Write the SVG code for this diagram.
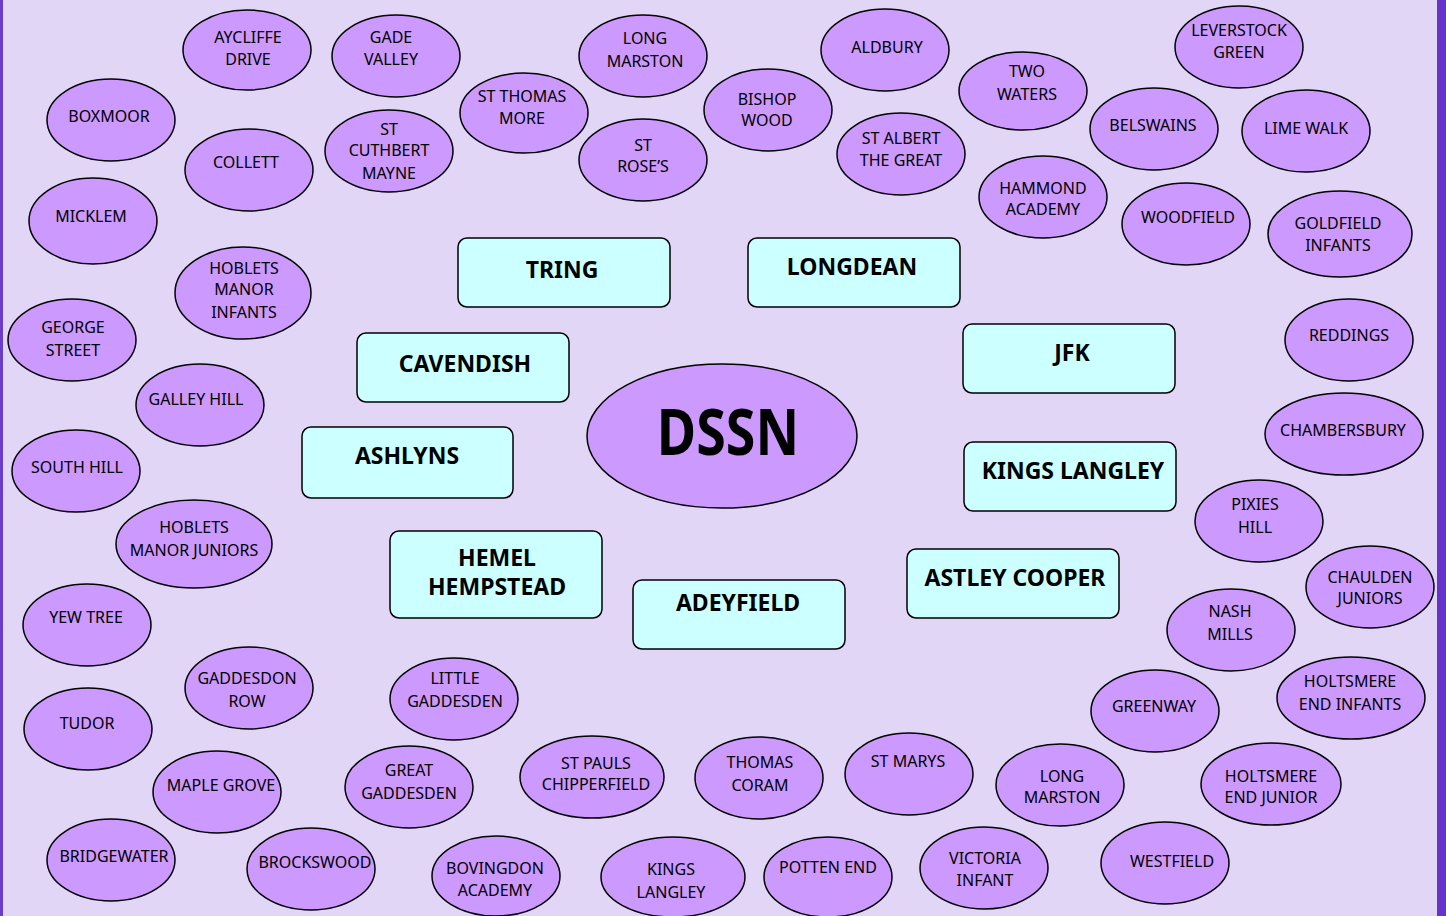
<svg xmlns="http://www.w3.org/2000/svg" width="1446" height="916" viewBox="0 0 1446 916">
<style>
.n ellipse{fill:#CC99FF;stroke:#000;stroke-width:1.5}
.n text{font-family:"Noto Sans","DejaVu Sans",sans-serif;font-size:16px;fill:#000;text-anchor:middle}
.b rect{fill:#CCFFFF;stroke:#000;stroke-width:1.5}
.b text{font-family:"Noto Sans","DejaVu Sans",sans-serif;font-size:23px;font-weight:bold;fill:#000;text-anchor:middle}
</style>
<rect x="0" y="0" width="1446" height="916" fill="#E2D6F6"/>
<rect x="0" y="0" width="3" height="916" fill="#6A3CC8"/>
<rect x="1437" y="0" width="9" height="916" fill="#6633CC"/>
<g id="connectors"/>
<g id="dssn" class="n"><ellipse cx="722" cy="436" rx="135" ry="72"/><text transform="translate(728,455) scale(0.84,1)" style="font-size:64px;font-weight:bold;fill:#000">DSSN</text></g>
<g id="tring" class="b"><rect x="458" y="238" width="212" height="69" rx="9"/><text x="562" y="278">TRING</text></g>
<g id="longdean" class="b"><rect x="748" y="238" width="212" height="69" rx="9"/><text x="852" y="275">LONGDEAN</text></g>
<g id="cavendish" class="b"><rect x="357" y="333" width="212" height="69" rx="9"/><text x="465" y="372">CAVENDISH</text></g>
<g id="jfk" class="b"><rect x="963" y="324" width="212" height="69" rx="9"/><text x="1072" y="361">JFK</text></g>
<g id="ashlyns" class="b"><rect x="302" y="427" width="211" height="71" rx="9"/><text x="407" y="464">ASHLYNS</text></g>
<g id="kingslangleybox" class="b"><rect x="964" y="442" width="212" height="69" rx="9"/><text x="1073" y="479">KINGS LANGLEY</text></g>
<g id="hemel" class="b"><rect x="390" y="531" width="212" height="87" rx="9"/><text x="497" y="566">HEMEL</text><text x="497" y="595">HEMPSTEAD</text></g>
<g id="adeyfield" class="b"><rect x="633" y="580" width="212" height="69" rx="9"/><text x="738" y="611">ADEYFIELD</text></g>
<g id="astley" class="b"><rect x="907" y="549" width="212" height="69" rx="9"/><text x="1015" y="586">ASTLEY COOPER</text></g>
<g id="aycliffe" class="n"><ellipse cx="247" cy="50" rx="64" ry="40"/><text x="248" y="43">AYCLIFFE</text><text x="248" y="65">DRIVE</text></g>
<g id="gade" class="n"><ellipse cx="396" cy="56" rx="64" ry="41"/><text x="391" y="43">GADE</text><text x="391" y="65">VALLEY</text></g>
<g id="longmarston1" class="n"><ellipse cx="643" cy="56" rx="64" ry="41"/><text x="645" y="44">LONG</text><text x="645" y="67">MARSTON</text></g>
<g id="aldbury" class="n"><ellipse cx="885" cy="50" rx="64" ry="41"/><text x="887" y="53">ALDBURY</text></g>
<g id="leverstock" class="n"><ellipse cx="1239" cy="47" rx="64" ry="41"/><text x="1239" y="36">LEVERSTOCK</text><text x="1239" y="58">GREEN</text></g>
<g id="boxmoor" class="n"><ellipse cx="111" cy="120" rx="64" ry="41"/><text x="109" y="122">BOXMOOR</text></g>
<g id="collett" class="n"><ellipse cx="249" cy="170" rx="64" ry="41"/><text x="246" y="168">COLLETT</text></g>
<g id="stcuthbert" class="n"><ellipse cx="389" cy="151" rx="64" ry="41"/><text x="389" y="135">ST</text><text x="389" y="156">CUTHBERT</text><text x="389" y="179">MAYNE</text></g>
<g id="stthomas" class="n"><ellipse cx="524" cy="113" rx="64" ry="40"/><text x="522" y="102">ST THOMAS</text><text x="522" y="124">MORE</text></g>
<g id="strose" class="n"><ellipse cx="643" cy="160" rx="64" ry="41"/><text x="643" y="151">ST</text><text x="643" y="172">ROSE’S</text></g>
<g id="bishopwood" class="n"><ellipse cx="768" cy="110" rx="64" ry="41"/><text x="767" y="105">BISHOP</text><text x="767" y="126">WOOD</text></g>
<g id="stalbert" class="n"><ellipse cx="901" cy="154" rx="64" ry="41"/><text x="901" y="144">ST ALBERT</text><text x="901" y="166">THE GREAT</text></g>
<g id="twowaters" class="n"><ellipse cx="1023" cy="91" rx="64" ry="39"/><text x="1027" y="77">TWO</text><text x="1027" y="100">WATERS</text></g>
<g id="belswains" class="n"><ellipse cx="1154" cy="129" rx="64" ry="41"/><text x="1153" y="131">BELSWAINS</text></g>
<g id="limewalk" class="n"><ellipse cx="1306" cy="131" rx="64" ry="41"/><text x="1306" y="134">LIME WALK</text></g>
<g id="hammond" class="n"><ellipse cx="1043" cy="197" rx="64" ry="41"/><text x="1043" y="194">HAMMOND</text><text x="1043" y="215">ACADEMY</text></g>
<g id="woodfield" class="n"><ellipse cx="1186" cy="224" rx="64" ry="41"/><text x="1188" y="223">WOODFIELD</text></g>
<g id="goldfield" class="n"><ellipse cx="1340" cy="234" rx="72" ry="43"/><text x="1338" y="229">GOLDFIELD</text><text x="1338" y="251">INFANTS</text></g>
<g id="micklem" class="n"><ellipse cx="93" cy="221" rx="64" ry="43"/><text x="91" y="222">MICKLEM</text></g>
<g id="hobletsinf" class="n"><ellipse cx="243" cy="293" rx="68" ry="46"/><text x="244" y="274">HOBLETS</text><text x="244" y="295">MANOR</text><text x="244" y="318">INFANTS</text></g>
<g id="georgestreet" class="n"><ellipse cx="72" cy="340" rx="64" ry="41"/><text x="73" y="333">GEORGE</text><text x="73" y="356">STREET</text></g>
<g id="galleyhill" class="n"><ellipse cx="200" cy="405" rx="64" ry="41"/><text x="196" y="405">GALLEY HILL</text></g>
<g id="southhill" class="n"><ellipse cx="76" cy="471" rx="64" ry="41"/><text x="77" y="473">SOUTH HILL</text></g>
<g id="hobletsjun" class="n"><ellipse cx="194" cy="544" rx="78" ry="44"/><text x="194" y="533">HOBLETS</text><text x="194" y="556">MANOR JUNIORS</text></g>
<g id="yewtree" class="n"><ellipse cx="87" cy="625" rx="64" ry="41"/><text x="86" y="623">YEW TREE</text></g>
<g id="tudor" class="n"><ellipse cx="88" cy="729" rx="64" ry="41"/><text x="87" y="729">TUDOR</text></g>
<g id="gaddesdonrow" class="n"><ellipse cx="249" cy="688" rx="64" ry="41"/><text x="247" y="684">GADDESDON</text><text x="247" y="707">ROW</text></g>
<g id="maplegrove" class="n"><ellipse cx="217" cy="792" rx="64" ry="41"/><text x="221" y="791">MAPLE GROVE</text></g>
<g id="bridgewater" class="n"><ellipse cx="111" cy="860" rx="64" ry="41"/><text x="114" y="862">BRIDGEWATER</text></g>
<g id="brockswood" class="n"><ellipse cx="311" cy="869" rx="64" ry="41"/><text x="315" y="868">BROCKSWOOD</text></g>
<g id="littlegaddesden" class="n"><ellipse cx="454" cy="699" rx="64" ry="41"/><text x="455" y="684">LITTLE</text><text x="455" y="707">GADDESDEN</text></g>
<g id="greatgaddesden" class="n"><ellipse cx="409" cy="787" rx="64" ry="41"/><text x="409" y="776">GREAT</text><text x="409" y="799">GADDESDEN</text></g>
<g id="bovingdon" class="n"><ellipse cx="496" cy="876" rx="64" ry="40"/><text x="495" y="874">BOVINGDON</text><text x="495" y="896">ACADEMY</text></g>
<g id="stpauls" class="n"><ellipse cx="592" cy="777" rx="72" ry="41"/><text x="596" y="769">ST PAULS</text><text x="596" y="790">CHIPPERFIELD</text></g>
<g id="kingslangley2" class="n"><ellipse cx="673" cy="877" rx="72" ry="40"/><text x="671" y="875">KINGS</text><text x="671" y="898">LANGLEY</text></g>
<g id="thomascoram" class="n"><ellipse cx="759" cy="778" rx="64" ry="41"/><text x="760" y="768">THOMAS</text><text x="760" y="791">CORAM</text></g>
<g id="pottenend" class="n"><ellipse cx="828" cy="877" rx="64" ry="40"/><text x="828" y="873">POTTEN END</text></g>
<g id="stmarys" class="n"><ellipse cx="909" cy="774" rx="64" ry="41"/><text x="908" y="767">ST MARYS</text></g>
<g id="victoria" class="n"><ellipse cx="984" cy="868" rx="64" ry="41"/><text x="985" y="864">VICTORIA</text><text x="985" y="886">INFANT</text></g>
<g id="longmarston2" class="n"><ellipse cx="1060" cy="785" rx="64" ry="41"/><text x="1062" y="782">LONG</text><text x="1062" y="803">MARSTON</text></g>
<g id="westfield" class="n"><ellipse cx="1165" cy="863" rx="64" ry="41"/><text x="1172" y="867">WESTFIELD</text></g>
<g id="greenway" class="n"><ellipse cx="1155" cy="711" rx="64" ry="41"/><text x="1154" y="712">GREENWAY</text></g>
<g id="holtsmerejun" class="n"><ellipse cx="1271" cy="784" rx="70" ry="41"/><text x="1271" y="782">HOLTSMERE</text><text x="1271" y="803">END JUNIOR</text></g>
<g id="holtsmereinf" class="n"><ellipse cx="1351" cy="698" rx="74" ry="41"/><text x="1350" y="687">HOLTSMERE</text><text x="1350" y="710">END INFANTS</text></g>
<g id="nashmills" class="n"><ellipse cx="1231" cy="630" rx="64" ry="41"/><text x="1230" y="617">NASH</text><text x="1230" y="640">MILLS</text></g>
<g id="chaulden" class="n"><ellipse cx="1370" cy="587" rx="64" ry="41"/><text x="1370" y="583">CHAULDEN</text><text x="1370" y="604">JUNIORS</text></g>
<g id="pixieshill" class="n"><ellipse cx="1259" cy="521" rx="64" ry="41"/><text x="1255" y="510">PIXIES</text><text x="1255" y="533">HILL</text></g>
<g id="chambersbury" class="n"><ellipse cx="1344" cy="434" rx="79" ry="41"/><text x="1343" y="436">CHAMBERSBURY</text></g>
<g id="reddings" class="n"><ellipse cx="1349" cy="340" rx="64" ry="41"/><text x="1349" y="341">REDDINGS</text></g>
</svg>
